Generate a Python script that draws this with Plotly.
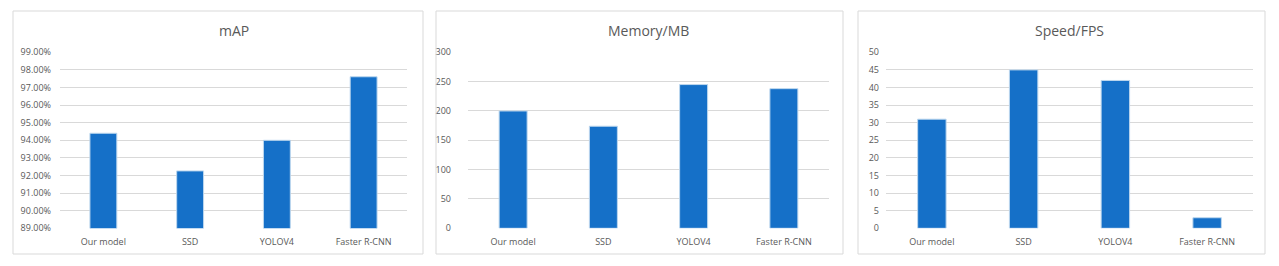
import plotly.graph_objects as go

W, H = 1279, 266

models = ["Our model", "SSD", "YOLOV4", "Faster R-CNN"]
map_vals = [0.9440, 0.9226, 0.9400, 0.9761]
memory_vals = [200, 174, 245, 238]
speed_vals = [31, 45, 42, 3]

titles = ["mAP", "Memory/MB", "Speed/FPS"]

BAR = "#1570C8"
GRID = "#D9D9D9"
TXT = "#595959"
FONT = "Open Sans"

# panel boxes (pixels): x0, x1 ; plot area x0, x1 ; gap between y labels and plot
panels = [
    dict(box=(13, 423), plot=(60, 407), gap=8, vals=map_vals, rng=[0.89, 0.99], dtick=0.01, fmt=".2%"),
    dict(box=(436, 843), plot=(468, 829), gap=16, vals=memory_vals, rng=[0, 300], dtick=50, fmt="d"),
    dict(box=(858, 1265), plot=(886, 1253), gap=6, vals=speed_vals, rng=[0, 50], dtick=5, fmt="d"),
]
box_top, box_bot = 11, 254
plot_top, plot_bot = 52.3, 228.3


def px(x):
    return x / W


def py(y):
    return 1 - y / H


fig = go.Figure()
shapes = []
annotations = []

for i, p in enumerate(panels):
    n = "" if i == 0 else str(i + 1)
    fig.add_trace(go.Bar(
        x=models, y=p["vals"], xaxis="x" + n, yaxis="y" + n,
        marker=dict(color=BAR, line=dict(color="#BDD7EE", width=1)),
        width=0.31, showlegend=False, hoverinfo="skip",
    ))
    fig.update_layout(**{
        "xaxis" + n: dict(
            domain=[px(p["plot"][0]), px(p["plot"][1])], anchor="y" + n,
            showgrid=False, zeroline=False, showline=False, ticks="",
            automargin=False, ticklabelstandoff=7,
            tickfont=dict(family=FONT, size=9, color=TXT), fixedrange=True,
        ),
        "yaxis" + n: dict(
            domain=[py(plot_bot), py(plot_top)], anchor="x" + n,
            range=p["rng"], dtick=p["dtick"], tick0=p["rng"][0], tickformat=p["fmt"],
            showgrid=True, gridcolor=GRID, gridwidth=1, zeroline=False,
            showline=False, ticks="", ticklen=0, automargin=False,
            ticklabelstandoff=p["gap"],
            tickfont=dict(family=FONT, size=9, color=TXT), fixedrange=True,
        ),
    })
    x0, x1 = p["box"]
    shapes.append(dict(type="rect", xref="paper", yref="paper",
                       x0=px(x0), x1=px(x1), y0=py(box_bot), y1=py(box_top),
                       line=dict(color="#D9D9D9", width=1), fillcolor="rgba(0,0,0,0)"))
    annotations.append(dict(text=titles[i], xref="paper", yref="paper",
                            x=px((p["plot"][0] + p["plot"][1]) / 2), y=py(31),
                            xanchor="center", yanchor="middle", showarrow=False,
                            font=dict(family=FONT, size=14, color=TXT)))

fig.update_layout(
    width=W, height=H, margin=dict(l=0, r=0, t=0, b=0, pad=0),
    paper_bgcolor="white", plot_bgcolor="white",
    shapes=shapes, annotations=annotations, bargap=0.69,
)

fig.write_html("out.html", config={"displayModeBar": False},
               post_script="document.body.style.margin='0';")
